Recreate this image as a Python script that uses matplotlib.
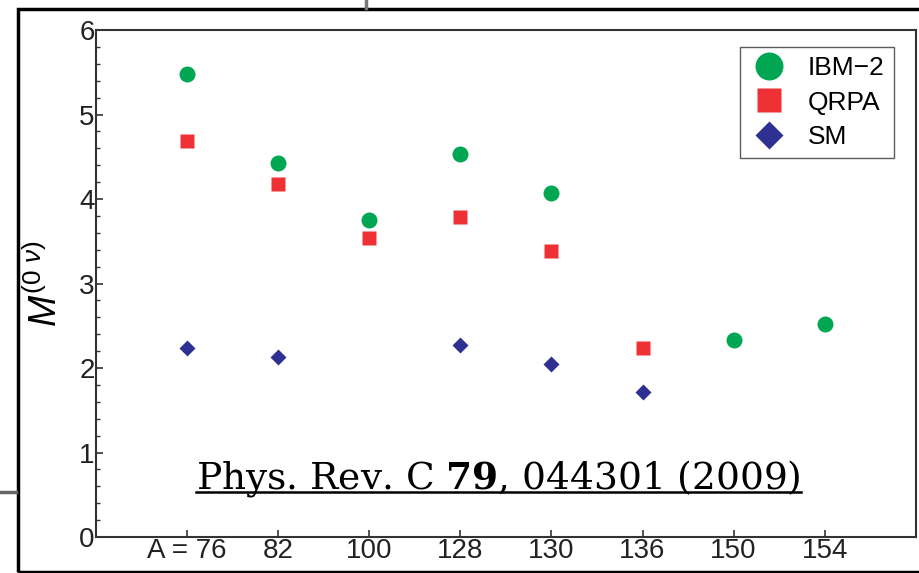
import matplotlib.pyplot as plt
from matplotlib.patches import Rectangle
from matplotlib.lines import Line2D
from matplotlib.ticker import MultipleLocator

plt.rcParams['font.family'] = ['Liberation Sans', 'DejaVu Sans']
plt.rcParams['mathtext.fontset'] = 'custom'
plt.rcParams['mathtext.it'] = 'Liberation Sans:italic'
plt.rcParams['mathtext.rm'] = 'Liberation Sans'

# nuclei (mass number A)
nuclei = ["A = 76", "82", "100", "128", "130", "136", "150", "154"]

ibm_pos = [1, 2, 3, 4, 5, 7, 8]
ibm_vals = [5.48, 4.43, 3.75, 4.53, 4.07, 2.33, 2.52]

qrpa_pos = [1, 2, 3, 4, 5, 6]
qrpa_vals = [4.69, 4.18, 3.54, 3.79, 3.38, 2.24]

sm_pos = [1, 2, 4, 5, 6]
sm_vals = [2.24, 2.13, 2.27, 2.05, 1.72]

green = "#00a651"
red = "#ee3135"
blue = "#2e3192"
frame = "#333333"

fig = plt.figure(figsize=(9.19, 5.73), dpi=100)
ax = fig.add_axes([0.1045, 0.0628, 0.892, 0.8848])

ax.plot(ibm_pos, ibm_vals, "o", color=green, ms=11.5, mec="none", label="IBM\u22122")
ax.plot(qrpa_pos, qrpa_vals, "s", color=red, ms=10, mec="none", label="QRPA")
ax.plot(sm_pos, sm_vals, "D", color=blue, ms=8.3, mec="none", label="SM")

ax.set_xlim(0, 9)
ax.set_ylim(0, 6)
ax.set_xticks(range(1, len(nuclei) + 1))
ax.set_xticklabels(nuclei)
ax.yaxis.set_major_locator(MultipleLocator(1))
ax.yaxis.set_minor_locator(MultipleLocator(0.2))
ax.tick_params(axis="both", which="major", direction="in", labelsize=20,
               colors=frame, labelcolor="#222222", width=1.2)
ax.tick_params(axis="x", length=5, pad=1, top=False)
ax.tick_params(axis="y", length=5, pad=1, right=False)
ax.tick_params(axis="y", which="minor", direction="in", length=3, width=1.0,
               color=frame, right=False)
for s in ax.spines.values():
    s.set_color(frame)
    s.set_linewidth(1.5)

ax.set_ylabel(r"$M^{(0\ \nu)}$", fontsize=27, labelpad=10)

leg = ax.legend(loc="upper right", bbox_to_anchor=(0.973, 0.967), fontsize=19,
                markerscale=1.75, frameon=True, fancybox=False, edgecolor=frame,
                handletextpad=0.7, labelspacing=0.4, borderpad=0.35,
                handlelength=1.5, borderaxespad=0)
leg.get_frame().set_linewidth(1.0)

ref_x, ref_y = 4.42, 0.57
ref = ax.text(ref_x, ref_y, r"Phys. Rev. C $\mathbf{79}$, 044301 (2009)",
              ha="center", va="baseline", fontsize=27, family="DejaVu Serif",
              math_fontfamily="dejavuserif")

# underline the reference, just below its baseline
fig.canvas.draw()
bb = ref.get_window_extent()
base = ax.transData.transform((ref_x, ref_y))[1] - 3
inv = fig.transFigure.inverted()
(x0, y0), (x1, _) = inv.transform([(bb.x0, base), (bb.x1, base)])
fig.add_artist(Line2D([x0, x1], [y0, y0], transform=fig.transFigure,
                      color="black", lw=1.8))

# outer slide frame and stray screenshot lines
fig.add_artist(Rectangle((18 / 919, 1 / 573), 1.2, 563 / 573, transform=fig.transFigure,
                         fill=False, ec="black", lw=2.5, clip_on=False))
fig.add_artist(Line2D([366 / 919, 366 / 919], [1.0, 565 / 573], transform=fig.transFigure,
                      color="#777777", lw=2.5))
fig.add_artist(Line2D([0, 16 / 919], [81 / 573, 81 / 573], transform=fig.transFigure,
                      color="#666666", lw=2.5))

fig.savefig("out.png", dpi=100)
